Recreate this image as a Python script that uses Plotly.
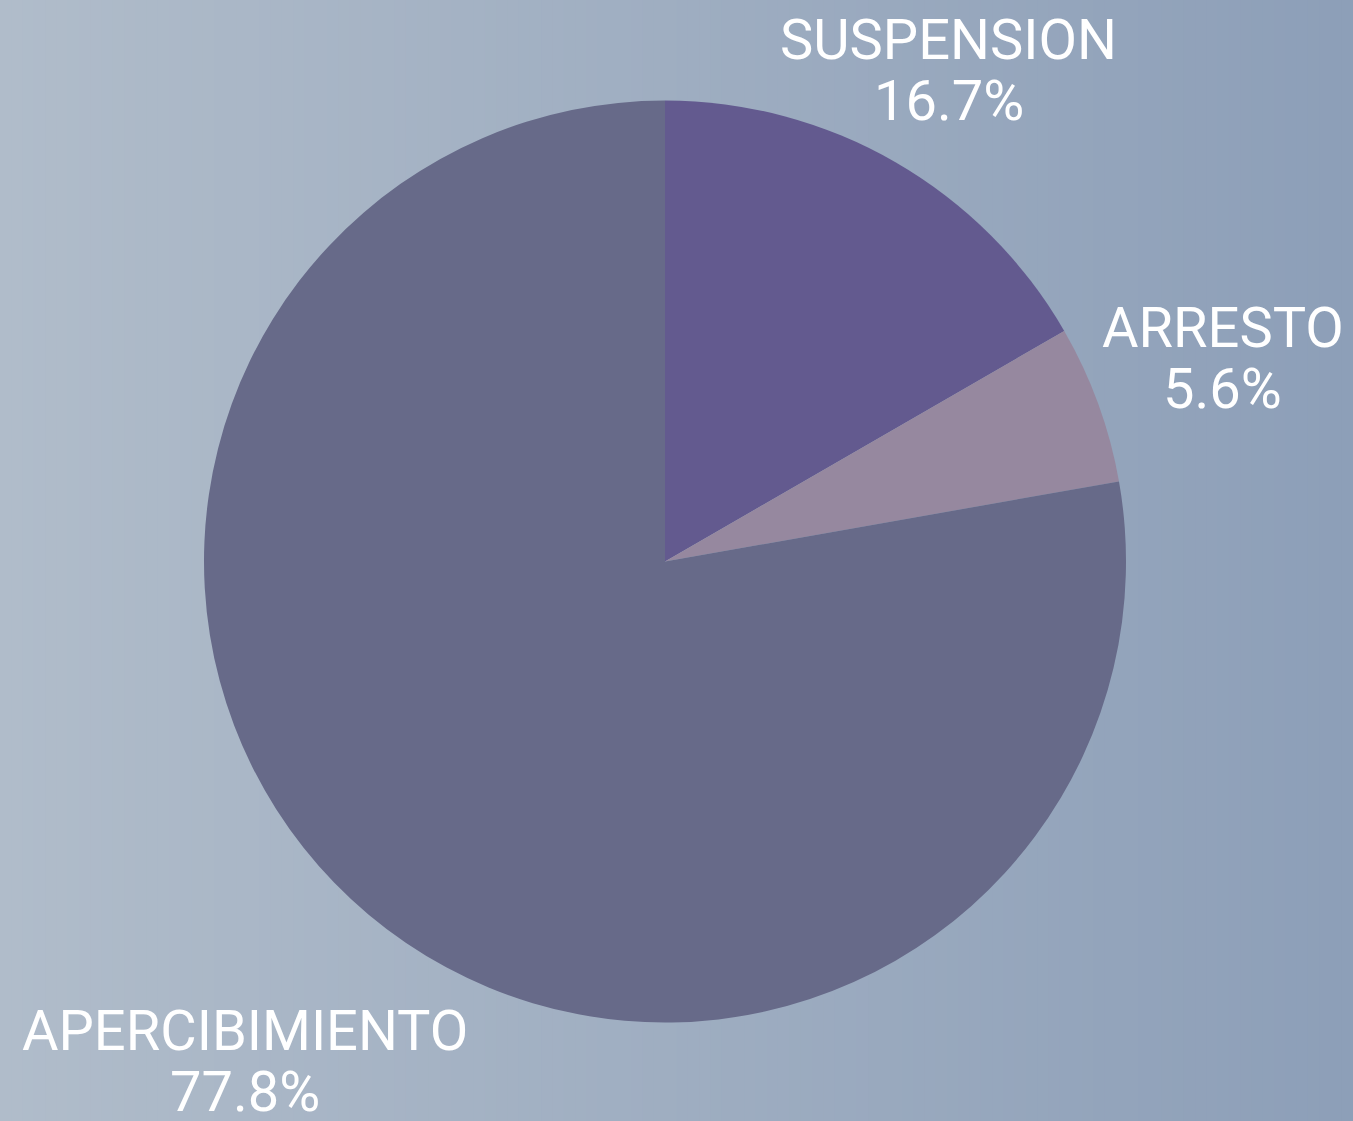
import math
import plotly.graph_objects as go

labels = ["SUSPENSION", "ARRESTO", "APERCIBIMIENTO"]
values = [3, 1, 14]
colors = ["#635a8f", "#96889f", "#676a89"]
# radial distance of each label block centre, as a multiple of the pie radius
label_dist = [1.230, 1.287, 1.417]

W, H = 1353, 1121
cx, cy, r = 665, 561.5, 461
FONT = "Roboto"
FS = 56
LINE_GAP = 61  # pixel gap between label line and percent line

fig = go.Figure(go.Pie(
    labels=labels, values=values, sort=False, direction="clockwise", rotation=0,
    marker=dict(colors=colors, line=dict(width=0)),
    textinfo="none", showlegend=False, hoverinfo="label+percent", automargin=False,
    domain=dict(x=[(cx - r) / W, (cx + r) / W], y=[1 - (cy + r) / H, 1 - (cy - r) / H]),
))

# outside labels placed along each slice's mid-angle
total = sum(values)
cum = 0
annotations = []
for lab, v, d in zip(labels, values, label_dist):
    mid = (cum + v / 2) / total * 2 * math.pi
    cum += v
    px = cx + d * r * math.sin(mid)
    py = cy - d * r * math.cos(mid)
    pct = "%.1f%%" % (100 * v / total)
    for txt, dy in ((lab, -LINE_GAP / 2), (pct, LINE_GAP / 2)):
        annotations.append(dict(
            x=px / W, y=1 - (py + dy) / H, xref="paper", yref="paper",
            text=txt, showarrow=False, xanchor="center", yanchor="middle",
            font=dict(family=FONT, size=FS, color="#ffffff"),
        ))

# horizontal background gradient
left = (0xb0, 0xbc, 0xca)
right = (0x8d, 0x9f, 0xb8)
n = 120
shapes = []
for i in range(n):
    t = i / (n - 1)
    c = tuple(round(left[k] + (right[k] - left[k]) * t) for k in range(3))
    shapes.append(dict(type="rect", xref="paper", yref="paper", x0=i / n, x1=(i + 1) / n + 0.002,
                       y0=0, y1=1, fillcolor="rgb(%d,%d,%d)" % c, line=dict(width=0), layer="below"))

fig.update_layout(
    width=W, height=H, margin=dict(l=0, r=0, t=0, b=0, pad=0, autoexpand=False),
    paper_bgcolor="#9fadc0", plot_bgcolor="rgba(0,0,0,0)",
    shapes=shapes, annotations=annotations,
)
fig.write_html("out.html", config={"displayModeBar": False},
               post_script="document.body.style.margin='0';document.body.style.overflow='hidden';")
